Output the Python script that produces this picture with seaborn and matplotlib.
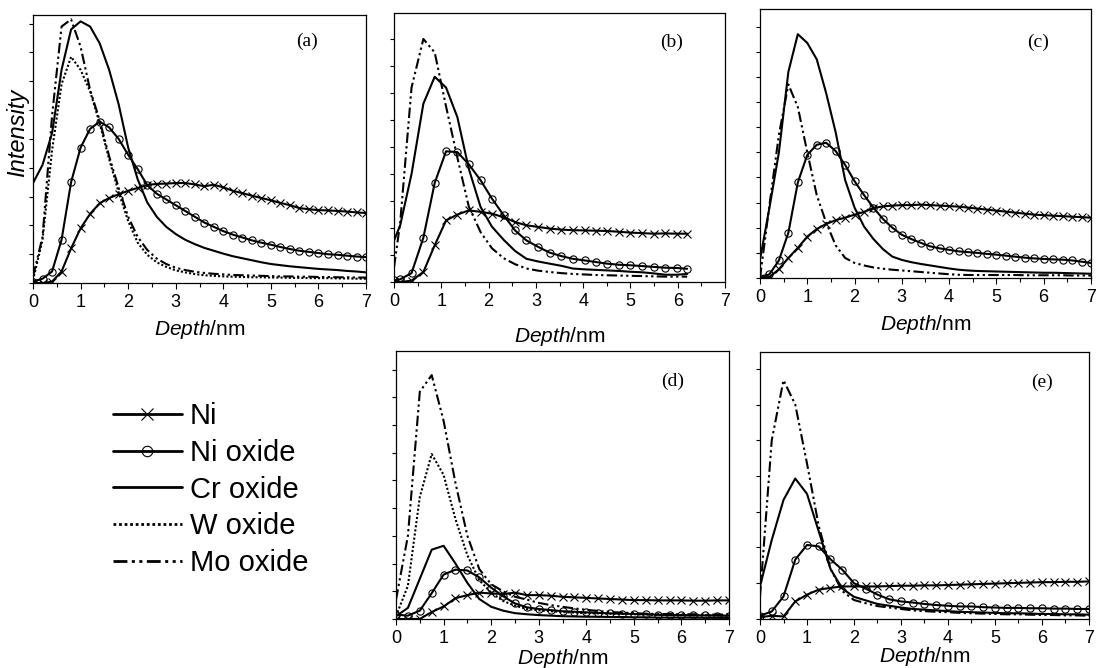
import matplotlib
matplotlib.use("Agg")
import matplotlib.pyplot as plt
import seaborn as sns
from matplotlib.lines import Line2D
from matplotlib.ticker import MultipleLocator

sns.set_style("ticks")
plt.rcParams['font.family'] = ['Liberation Sans', 'DejaVu Sans']
plt.rcParams['mathtext.fontset'] = 'custom'
plt.rcParams['mathtext.it'] = 'Liberation Sans:italic'
plt.rcParams['mathtext.rm'] = 'Liberation Sans'
plt.rcParams['text.color'] = 'black'
plt.rcParams['axes.labelcolor'] = 'black'
plt.rcParams['xtick.color'] = 'black'
plt.rcParams['ytick.color'] = 'black'
plt.rcParams['axes.edgecolor'] = 'black'

# ---------------- data (intensity in y-tick units) ----------------
series_names = ["Ni", "Ni oxide", "Cr oxide", "W oxide", "Mo oxide"]
panel_labels = ["(a)", "(b)", "(c)", "(d)", "(e)"]
x_ticks = [0, 1, 2, 3, 4, 5, 6, 7]

depth_a = [0.0, 0.2, 0.4, 0.6, 0.8, 1.0, 1.2, 1.4, 1.6, 1.8, 2.0, 2.2, 2.4, 2.6, 2.8, 3.0, 3.2, 3.4,
           3.6, 3.8, 4.0, 4.2, 4.4, 4.6, 4.8, 5.0, 5.2, 5.4, 5.6, 5.8, 6.0, 6.2, 6.4, 6.6, 6.8, 7.0]
a_ni = [0, 0, 0.05, 0.4, 1.2, 1.9, 2.4, 2.77, 2.95, 3.08, 3.2, 3.3, 3.4, 3.44, 3.45, 3.47, 3.47, 3.42,
        3.36, 3.41, 3.32, 3.2, 3.12, 3.03, 2.95, 2.87, 2.78, 2.7, 2.6, 2.56, 2.53, 2.52, 2.5, 2.48, 2.45, 2.43]
a_niox = [0.05, 0.15, 0.4, 1.5, 3.5, 4.7, 5.35, 5.6, 5.4, 5.0, 4.45, 3.95, 3.4, 3.1, 2.9, 2.7, 2.5, 2.3,
          2.1, 1.95, 1.8, 1.68, 1.58, 1.48, 1.4, 1.33, 1.25, 1.18, 1.12, 1.08, 1.04, 1.0, 0.98, 0.95, 0.92, 0.9]
a_cr = [3.47, 4.1, 5.2, 7.4, 8.8, 9.08, 8.9, 8.32, 7.4, 6.2, 4.7, 3.6, 2.8, 2.3, 1.95, 1.7, 1.5, 1.35,
        1.22, 1.12, 1.02, 0.93, 0.86, 0.79, 0.72, 0.66, 0.62, 0.58, 0.55, 0.52, 0.49, 0.47, 0.45, 0.42, 0.4, 0.37]
a_w = [0.1, 1.5, 4.6, 6.9, 7.85, 7.4, 6.65, 5.55, 4.3, 3.15, 2.15, 1.4, 0.98, 0.72, 0.56, 0.44, 0.37, 0.31,
       0.27, 0.25, 0.23, 0.22, 0.21, 0.2, 0.2, 0.19, 0.19, 0.18, 0.18, 0.17, 0.17, 0.17, 0.16, 0.16, 0.15, 0.15]
a_mo = [0.23, 1.6, 5.8, 8.9, 9.15, 8.2, 6.7, 5.65, 4.4, 3.3, 2.3, 1.6, 1.15, 0.85, 0.66, 0.53, 0.45, 0.39,
        0.35, 0.32, 0.3, 0.28, 0.27, 0.26, 0.25, 0.24, 0.23, 0.23, 0.22, 0.22, 0.21, 0.21, 0.2, 0.2, 0.19, 0.19]

depth_b = [0, 0.13, 0.37, 0.62, 0.86, 1.1, 1.34, 1.58, 1.83, 2.07, 2.32, 2.56, 2.8, 3.05, 3.29, 3.54,
           3.78, 4.03, 4.27, 4.51, 4.76, 5.0, 5.25, 5.49, 5.74, 5.98, 6.2]
b_ni = [0, 0, 0.05, 0.37, 1.36, 2.28, 2.5, 2.65, 2.6, 2.53, 2.4, 2.22, 2.1, 2.04, 1.98, 1.94, 1.92, 1.91,
        1.9, 1.89, 1.86, 1.83, 1.81, 1.79, 1.8, 1.79, 1.79]
b_niox = [0.06, 0.1, 0.33, 1.64, 3.67, 4.84, 4.81, 4.36, 3.77, 3.09, 2.47, 1.91, 1.54, 1.3, 1.09, 0.96,
          0.86, 0.8, 0.74, 0.68, 0.64, 0.62, 0.59, 0.56, 0.53, 0.52, 0.49]
b_cr = [1.54, 2.1, 4.0, 6.6, 7.6, 7.2, 6.1, 4.2, 2.78, 2.05, 1.56, 1.15, 0.86, 0.76, 0.68, 0.6, 0.5, 0.47,
        0.45, 0.43, 0.41, 0.38, 0.36, 0.32, 0.27, 0.27, 0.3]
b_mo = [0.55, 2.2, 7.2, 9.0, 8.5, 6.5, 4.6, 2.8, 1.85, 1.25, 0.88, 0.66, 0.5, 0.42, 0.37, 0.33, 0.3, 0.28,
        0.26, 0.25, 0.24, 0.23, 0.22, 0.21, 0.2, 0.2, 0.2]

depth_c = [0.0, 0.2, 0.4, 0.6, 0.8, 1.0, 1.2, 1.4, 1.6, 1.8, 2.0, 2.2, 2.4, 2.6, 2.8, 3.0, 3.2, 3.4,
           3.6, 3.8, 4.0, 4.2, 4.4, 4.6, 4.8, 5.0, 5.2, 5.4, 5.6, 5.8, 6.0, 6.2, 6.4, 6.6, 6.8, 7.0]
c_ni = [0, 0.04, 0.35, 0.8, 1.2, 1.65, 1.95, 2.15, 2.3, 2.4, 2.52, 2.63, 2.78, 2.85, 2.88, 2.9, 2.9, 2.92,
        2.9, 2.88, 2.86, 2.84, 2.8, 2.76, 2.72, 2.68, 2.64, 2.6, 2.56, 2.52, 2.5, 2.48, 2.46, 2.44, 2.42, 2.4]
c_niox = [0, 0.15, 0.7, 1.8, 3.8, 4.9, 5.3, 5.38, 5.05, 4.5, 3.85, 3.3, 2.8, 2.35, 2.0, 1.72, 1.55, 1.4,
          1.26, 1.18, 1.12, 1.06, 1.03, 1.0, 0.96, 0.93, 0.89, 0.85, 0.81, 0.78, 0.76, 0.74, 0.73, 0.7, 0.65, 0.6]
c_cr = [0.73, 2.8, 5.0, 8.2, 9.7, 9.35, 8.7, 7.35, 5.8, 3.9, 2.8, 2.05, 1.55, 1.15, 0.85, 0.72, 0.63, 0.56,
        0.5, 0.44, 0.38, 0.33, 0.3, 0.28, 0.27, 0.26, 0.25, 0.24, 0.23, 0.22, 0.21, 0.21, 0.2, 0.19, 0.18, 0.17]
c_mo = [0, 2.9, 5.7, 7.7, 6.8, 5.0, 3.3, 2.2, 1.3, 0.8, 0.6, 0.5, 0.42, 0.37, 0.33, 0.3, 0.27, 0.24,
        0.21, 0.18, 0.15, 0.13, 0.12, 0.12, 0.12, 0.12, 0.12, 0.12, 0.11, 0.11, 0.11, 0.11, 0.11, 0.1, 0.1, 0.1]

depth_d = [0, 0.25, 0.5, 0.75, 1.0, 1.25, 1.5, 1.75, 2.0, 2.25, 2.5, 2.75, 3.0, 3.25, 3.5, 3.75, 4.0,
           4.25, 4.5, 4.75, 5.0, 5.25, 5.5, 5.75, 6.0, 6.25, 6.5, 6.75, 7.0]
d_ni = [0, 0, 0, 0.25, 0.45, 0.75, 0.86, 0.95, 0.92, 0.9, 0.95, 0.86, 0.86, 0.84, 0.8, 0.78, 0.76, 0.74,
        0.72, 0.7, 0.68, 0.68, 0.67, 0.67, 0.67, 0.66, 0.66, 0.67, 0.67]
d_niox = [0.16, 0.12, 0.3, 0.93, 1.6, 1.78, 1.75, 1.5, 1.13, 0.82, 0.56, 0.42, 0.36, 0.32, 0.28, 0.26,
          0.24, 0.22, 0.2, 0.19, 0.18, 0.17, 0.15, 0.14, 0.14, 0.13, 0.13, 0.12, 0.12]
d_cr = [0.1, 0.4, 1.45, 2.5, 2.64, 2.0, 1.3, 0.72, 0.44, 0.3, 0.21, 0.17, 0.14, 0.12, 0.1, 0.09, 0.08,
        0.08, 0.07, 0.07, 0.06, 0.06, 0.05, 0.05, 0.05, 0.05, 0.04, 0.04, 0.04]
d_w = [0.1, 1.2, 4.4, 5.95, 5.2, 3.6, 2.3, 1.4, 0.95, 0.65, 0.48, 0.36, 0.31, 0.28, 0.25, 0.23, 0.21,
       0.2, 0.19, 0.18, 0.17, 0.16, 0.15, 0.15, 0.14, 0.14, 0.13, 0.13, 0.12]
d_mo = [0.7, 3.0, 8.2, 8.8, 7.15, 4.9, 3.0, 1.8, 1.25, 1.0, 0.8, 0.7, 0.58, 0.5, 0.44, 0.38, 0.33, 0.29,
        0.25, 0.23, 0.21, 0.19, 0.18, 0.18, 0.17, 0.17, 0.16, 0.16, 0.16]

depth_e = [0, 0.25, 0.5, 0.75, 1.0, 1.25, 1.5, 1.75, 2.0, 2.25, 2.5, 2.75, 3.0, 3.25, 3.5, 3.75, 4.0,
           4.25, 4.5, 4.75, 5.0, 5.25, 5.5, 5.75, 6.0, 6.25, 6.5, 6.75, 7.0]
e_ni = [0.05, 0.09, 0.07, 0.49, 0.68, 0.82, 0.87, 0.91, 0.91, 0.91, 0.91, 0.92, 0.93, 0.93, 0.94, 0.94,
        0.95, 0.96, 0.97, 0.98, 0.99, 1.0, 1.01, 1.02, 1.03, 1.03, 1.04, 1.04, 1.05]
e_niox = [0.09, 0.21, 0.63, 1.66, 2.07, 2.03, 1.67, 1.38, 1.0, 0.85, 0.68, 0.55, 0.49, 0.46, 0.42, 0.39,
          0.37, 0.35, 0.35, 0.33, 0.32, 0.31, 0.31, 0.3, 0.3, 0.29, 0.29, 0.28, 0.28]
e_cr = [0.91, 2.21, 3.33, 3.93, 3.5, 2.45, 1.4, 0.85, 0.62, 0.52, 0.42, 0.37, 0.32, 0.28, 0.26, 0.24,
        0.22, 0.2, 0.19, 0.18, 0.17, 0.16, 0.16, 0.15, 0.14, 0.14, 0.13, 0.13, 0.12]
e_mo = [0.63, 5.0, 6.68, 6.0, 4.35, 2.6, 1.4, 0.78, 0.53, 0.44, 0.36, 0.32, 0.28, 0.24, 0.22, 0.2, 0.19,
        0.17, 0.16, 0.15, 0.14, 0.13, 0.13, 0.12, 0.11, 0.11, 0.1, 0.1, 0.09]

# ---------------- styles / layout ----------------
DASHDOT = (0, (5, 1.6, 1.1, 1.6, 1.1, 1.6))
def style(name, dense, legend=False):
    if name == "Ni":
        ms = 9 if legend else (5.8 if dense else 5.5)
        return dict(linestyle='-', marker='x', markersize=ms, mec='black', mew=0.8)
    if name == "Ni oxide":
        ms = 7.5 if legend else 5.2
        return dict(linestyle='-', marker='o', markersize=ms, mec='black', mfc='none', mew=0.8)
    if name == "Cr oxide":
        return dict(linestyle='-')
    if name == "W oxide":
        return dict(linestyle=(0, (1, 1)))
    return dict(linestyle=DASHDOT)

panels = [
    dict(rect=[0.0301, 0.5763, 0.3036, 0.4012], ymax=9.3, dense=True, depth=depth_a,
         data={"Ni": a_ni, "Ni oxide": a_niox, "Cr oxide": a_cr, "W oxide": a_w, "Mo oxide": a_mo},
         lab=(0.823, 0.90), xl=-0.13),
    dict(rect=[0.3592, 0.5778, 0.3017, 0.4027], ymax=9.96, dense=False, depth=depth_b,
         data={"Ni": b_ni, "Ni oxide": b_niox, "Cr oxide": b_cr, "Mo oxide": b_mo},
         lab=(0.84, 0.89), xl=-0.16),
    dict(rect=[0.6928, 0.5838, 0.3017, 0.4027], ymax=10.7, dense=True, depth=depth_c,
         data={"Ni": c_ni, "Ni oxide": c_niox, "Cr oxide": c_cr, "Mo oxide": c_mo},
         lab=(0.84, 0.875), xl=-0.13),
    dict(rect=[0.3610, 0.0734, 0.3036, 0.4012], ymax=9.67, dense=False, depth=depth_d,
         data={"Ni": d_ni, "Ni oxide": d_niox, "Cr oxide": d_cr, "W oxide": d_w, "Mo oxide": d_mo},
         lab=(0.83, 0.885), xl=-0.105),
    dict(rect=[0.6928, 0.0734, 0.2999, 0.3997], ymax=7.47, dense=False, depth=depth_e,
         data={"Ni": e_ni, "Ni oxide": e_niox, "Cr oxide": e_cr, "Mo oxide": e_mo},
         lab=(0.857, 0.888), xl=-0.098),
]

fig = plt.figure(figsize=(10.97, 6.68), dpi=100)
axes = []
for i, p in enumerate(panels):
    ax = fig.add_axes(p["rect"])
    axes.append(ax)
    for name in series_names:
        if name not in p["data"]:
            continue
        sns.lineplot(x=p["depth"], y=p["data"][name], ax=ax, color='black', lw=1.5,
                     errorbar=None, legend=False, **style(name, p["dense"]))
    ax.set_xlim(0, 7)
    ax.set_ylim(0, p["ymax"])
    ax.set_xticks(x_ticks)
    ax.xaxis.set_minor_locator(MultipleLocator(0.5))
    ax.yaxis.set_major_locator(MultipleLocator(1))
    ax.tick_params(axis='x', which='major', direction='out', length=4, width=0.8,
                   labelsize=13, pad=4, color='black', labelcolor='black')
    ax.tick_params(axis='x', which='minor', direction='out', length=3, width=0.8, color='black')
    ax.tick_params(axis='y', which='both', direction='out', length=3, width=0.8,
                   labelleft=False, color='black')
    for s in ax.spines.values():
        s.set_color('black')
        s.set_linewidth(0.9)
    ax.set_xlabel(r'$\mathit{Depth}$/nm', fontsize=15, labelpad=0, color='black')
    ax.xaxis.set_label_coords(0.5, p["xl"])
    ax.xaxis.label.set_va('top')
    ax.set_ylabel('')
    ax.text(p["lab"][0], p["lab"][1], panel_labels[i], transform=ax.transAxes,
            fontsize=14, family='Liberation Serif', ha='center', va='center', color='black')

axes[0].set_ylabel('Intensity', fontsize=17, style='italic', labelpad=2, color='black')
axes[0].yaxis.set_label_coords(-0.012, 0.56)

handles = []
for name in series_names:
    st = style(name, False, legend=True)
    st.pop('mec', None)
    handles.append(Line2D([0], [0], color='black', lw=2.0, markeredgecolor='black', **st))
leg = fig.legend(handles, series_names, loc='upper left', bbox_to_anchor=(0.103, 0.398),
                 frameon=False, fontsize=21, handlelength=2.35, handletextpad=0.28,
                 labelspacing=0.30, numpoints=1, borderaxespad=0, borderpad=0)
for t in leg.get_texts():
    t.set_color('black')

fig.savefig("out.png", dpi=100)
